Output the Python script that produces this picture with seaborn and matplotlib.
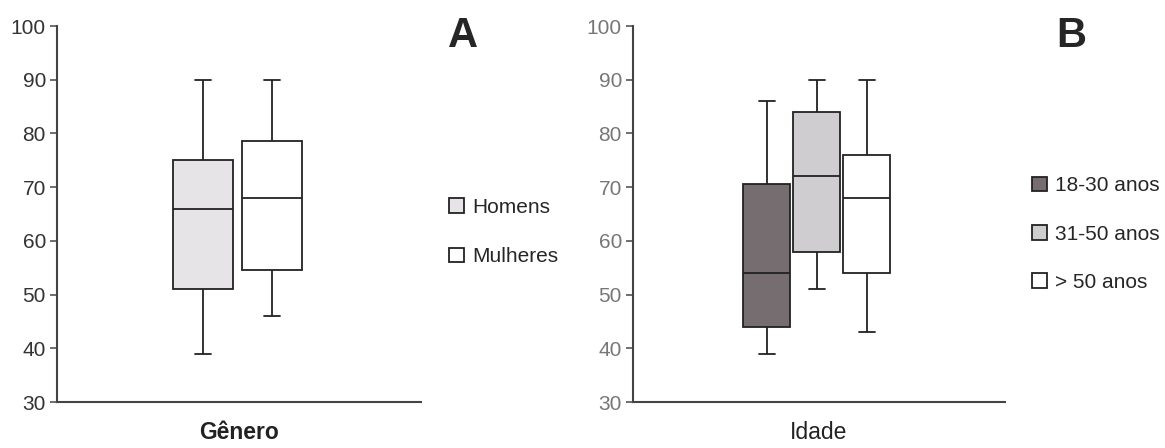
import pandas as pd
import numpy as np
import matplotlib.pyplot as plt
import seaborn as sns

# five-number summaries (min, Q1, median, Q3, max)
genero_grupos = ["Homens", "Mulheres"]
homens = [39, 51, 66, 75, 90]
mulheres = [46, 54.5, 68, 78.5, 90]

idade_grupos = ["18-30 anos", "31-50 anos", "> 50 anos"]
idade_18_30 = [39, 44, 54, 70.5, 86]
idade_31_50 = [51, 58, 72, 84, 90]
idade_50_mais = [43, 54, 68, 76, 90]

y_ticks = [30, 40, 50, 60, 70, 80, 90, 100]

cores_genero = ["#e6e4e6", "#ffffff"]
cores_idade = ["#756d6f", "#d0cdd0", "#ffffff"]

# long-form tables for seaborn
df_genero = pd.DataFrame({
    "eixo": "Gênero",
    "grupo": np.repeat(genero_grupos, 5),
    "valor": homens + mulheres,
})
df_idade = pd.DataFrame({
    "eixo": "Idade",
    "grupo": np.repeat(idade_grupos, 5),
    "valor": idade_18_30 + idade_31_50 + idade_50_mais,
})

sns.set_style("ticks")
plt.rcParams['font.family'] = ['Liberation Sans', 'DejaVu Sans']

fig = plt.figure(figsize=(11.65, 4.48), dpi=100)
ax1 = fig.add_axes([57 / 1165, 1 - 402 / 448, 364 / 1165, 376 / 448])
ax2 = fig.add_axes([633 / 1165, 1 - 402 / 448, 372 / 1165, 376 / 448])

box_kws = dict(x="eixo", y="valor", hue="grupo", whis=(0, 100), width=0.8,
               linewidth=1.3, linecolor="#222222", showfliers=False,
               capwidths=0.09)

sns.boxplot(data=df_genero, hue_order=genero_grupos, palette=cores_genero,
            gap=0.13, saturation=1, ax=ax1, **box_kws)
sns.boxplot(data=df_idade, hue_order=idade_grupos, palette=cores_idade,
            gap=0.06, saturation=1, ax=ax2, **box_kws)

ax1.set_xlim(-1.046, 1.064)
ax2.set_xlim(-0.981, 1.003)

for ax, cor_tick, titulo, peso in [(ax1, "#333333", "Gênero", "bold"),
                                   (ax2, "#777777", "Idade", "normal")]:
    ax.set_ylim(30, 100)
    ax.set_yticks(y_ticks)
    ax.set_xticks([])
    ax.set_ylabel("")
    ax.set_xlabel(titulo, fontsize=16.5, fontweight=peso, color="#222222", labelpad=14)
    sns.despine(ax=ax)
    for s in ["left", "bottom"]:
        ax.spines[s].set_color("#444444")
        ax.spines[s].set_linewidth(1.5)
    ax.tick_params(axis="y", length=5, width=1.2, color="#555555",
                   labelsize=15, labelcolor=cor_tick, pad=3)

# legends as plain squares, no frame
h1, l1 = ax1.get_legend_handles_labels()
ax1.legend(h1, l1, loc="center left", bbox_to_anchor=(449 / 1165, 1 - 232 / 448),
           bbox_transform=fig.transFigure, frameon=False, fontsize=15,
           handlelength=0.7, handleheight=0.7, handletextpad=0.4,
           labelspacing=1.45, borderpad=0, borderaxespad=0)
h2, l2 = ax2.get_legend_handles_labels()
ax2.legend(h2, l2, loc="center left", bbox_to_anchor=(1032 / 1165, 1 - 234 / 448),
           bbox_transform=fig.transFigure, frameon=False, fontsize=15,
           handlelength=0.7, handleheight=0.7, handletextpad=0.4,
           labelspacing=1.4, borderpad=0, borderaxespad=0)

fig.text(448 / 1165, 1 - 36 / 448, "A", fontsize=30, fontweight="bold", va="center", ha="left")
fig.text(1056 / 1165, 1 - 36 / 448, "B", fontsize=30, fontweight="bold", va="center", ha="left")

fig.savefig("out.png", dpi=100)
